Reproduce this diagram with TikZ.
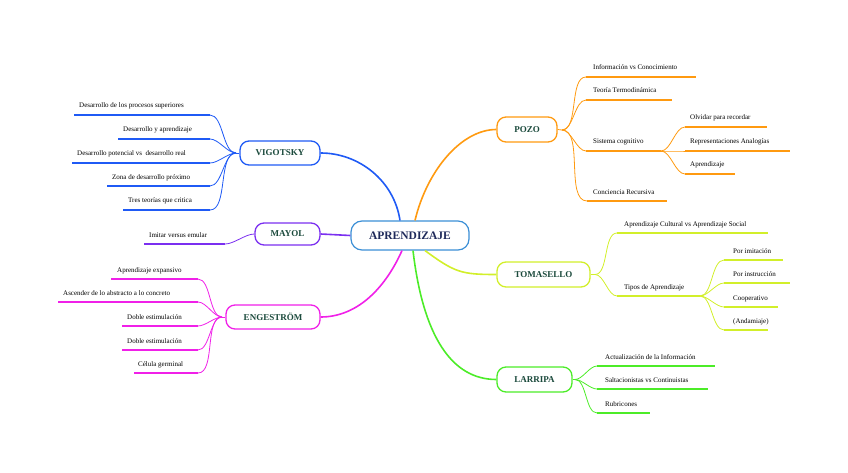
\documentclass[tikz,border=0pt]{standalone}
\usepackage{fontspec}
\setmainfont{Liberation Serif}
\usetikzlibrary{calc}
\definecolor{cblue}{HTML}{1F5AF5}
\definecolor{cpurple}{HTML}{7B2FF0}
\definecolor{cmag}{HTML}{F020E8}
\definecolor{corange}{HTML}{FF9A10}
\definecolor{cyel}{HTML}{D2EF2A}
\definecolor{cgreen}{HTML}{4CEC28}
\definecolor{ccenter}{HTML}{3B8FD6}
\definecolor{tgreen}{HTML}{1B4A3C}
\definecolor{tnavy}{HTML}{1F2A5A}
\tikzset{
  mainbox/.style={draw, rounded corners=9pt, line width=1.3pt, fill=white, inner sep=0pt,
    font=\bfseries\fontsize{9}{10}\selectfont, text=tgreen},
  centerbox/.style={draw=ccenter, rounded corners=11pt, line width=1.2pt, fill=white, inner sep=0pt,
    font=\bfseries\fontsize{11.5}{13}\selectfont, text=tnavy, minimum width=118pt, minimum height=29pt},
  lbl/.style={font=\fontsize{7}{8}\selectfont, inner sep=0pt, text=black},
  uline/.style={line width=1.5pt},
  thinc/.style={line width=0.8pt, looseness=0.75},
  mainc/.style={line width=1.6pt}
}
\newcommand{\kidline}[7]{%
  \coordinate (#1a) at (#2,#4); \coordinate (#1b) at (#3,#4);
  \draw[uline,#5] (#1a) -- (#1b);
  \node[lbl,anchor=base west] (#1) at ($(#1a)+(#7,-7)$) {#6};}
\begin{document}
\begin{tikzpicture}[x=1pt,y=-1pt]
\useasboundingbox (0,0) rectangle (848,473);
% main nodes
\node[centerbox] (ap) at (410,235.5) {APRENDIZAJE};
\node[mainbox, draw=cblue, minimum width=80pt, minimum height=24pt] (vig) at (280,153) {VIGOTSKY};
\node[mainbox, draw=cpurple, minimum width=65pt, minimum height=22pt] (may) at (287.5,234) {MAYOL};
\node[mainbox, draw=cmag, minimum width=94pt, minimum height=24pt] (eng) at (273,317) {ENGESTRÖM};
\node[mainbox, draw=corange, minimum width=60pt, minimum height=25pt] (pozo) at (527,129.5) {POZO};
\node[mainbox, draw=cyel, minimum width=93pt, minimum height=25pt] (tom) at (543.5,274.5) {TOMASELLO};
\node[mainbox, draw=cgreen, minimum width=75pt, minimum height=25pt] (lar) at (534.5,379.5) {LARRIPA};
% main connectors
\draw[mainc,cblue] (vig.east) .. controls +(38,0) and +(-6,-40) .. ([xshift=-10pt]ap.north);
\draw[mainc,corange] ([xshift=5pt]ap.north) .. controls +(12,-50) and +(-35,0) .. (pozo.west);
\draw[mainc,cpurple] (ap.west) -- (may.east);
\draw[mainc,cmag] ([xshift=-8pt]ap.south) .. controls +(-18,40) and +(35,0) .. (eng.east);
\draw[mainc,cgreen] ([xshift=3pt]ap.south) .. controls +(10,85) and +(-45,0) .. (lar.west);
\draw[mainc,cyel] ([xshift=15pt]ap.south) .. controls +(30,22) and +(-35,0) .. (tom.west);
% VIGOTSKY children
\kidline{va}{74}{210}{115}{cblue}{Desarrollo de los procesos superiores}{5}
\kidline{vb}{118}{210}{139}{cblue}{Desarrollo y aprendizaje}{5}
\kidline{vc}{72}{210}{163}{cblue}{Desarrollo potencial vs\ \ desarrollo real}{5}
\kidline{vd}{107}{210}{186}{cblue}{Zona de desarrollo próximo}{5}
\kidline{ve}{123}{210}{210}{cblue}{Tres teorías que critica}{5}
\coordinate (vigj) at (236,153);
\draw[thinc,cblue] (vig.west) -- (vigj);
\foreach \k in {va,vb,vc,vd,ve}{\draw[thinc,cblue] (vigj) to[out=180,in=0] (\k b);}
% MAYOL child
\kidline{ma}{144}{225}{244}{cpurple}{Imitar versus emular}{5}
\draw[thinc,cpurple] (may.west) to[out=180,in=0] (mab);
% ENGESTROM children
\kidline{ea}{111}{198}{279}{cmag}{Aprendizaje expansivo}{6}
\kidline{eb}{58}{198}{302}{cmag}{Ascender de lo abstracto a lo concreto}{5}
\kidline{ec}{122}{198}{326}{cmag}{Doble estimulación}{5}
\kidline{ed}{122}{198}{350}{cmag}{Doble estimulación}{5}
\kidline{ee}{134}{198}{373}{cmag}{Célula germinal}{4}
\coordinate (engj) at (222,317);
\draw[thinc,cmag] (eng.west) -- (engj);
\foreach \k in {ea,eb,ec,ed,ee}{\draw[thinc,cmag] (engj) to[out=180,in=0] (\k b);}
% POZO children
\kidline{pa}{586}{696}{77}{corange}{Información vs Conocimiento}{7}
\kidline{pb}{586}{672}{100}{corange}{Teoría Termodinámica}{7}
\kidline{pc}{586}{661}{151}{corange}{Sistema cognitivo}{7}
\kidline{pd}{587}{667}{201}{corange}{Conciencia Recursiva}{6}
\coordinate (pozoj) at (562,130);
\draw[thinc,corange] (pozo.east) -- (pozoj);
\foreach \k in {pa,pb,pc,pd}{\draw[thinc,corange] (pozoj) to[out=0,in=180] (\k a);}
\kidline{psa}{685}{767}{127}{corange}{Olvidar para recordar}{5}
\kidline{psb}{685}{790}{151}{corange}{Representaciones Analogías}{5}
\kidline{psc}{685}{735}{174}{corange}{Aprendizaje}{5}
\foreach \k in {psa,psb,psc}{\draw[thinc,corange] (pcb) to[out=0,in=180] (\k a);}
% TOMASELLO children
\kidline{ta}{617}{768}{233}{cyel}{Aprendizaje Cultural vs Aprendizaje Social}{7}
\kidline{tb}{617}{700}{296}{cyel}{Tipos de Aprendizaje}{7}
\coordinate (tomj) at (595,274.5);
\draw[thinc,cyel] (tom.east) -- (tomj);
\foreach \k in {ta,tb}{\draw[thinc,cyel] (tomj) to[out=0,in=180] (\k a);}
\kidline{tsa}{724}{783}{260}{cyel}{Por imitación}{9}
\kidline{tsb}{724}{790}{283}{cyel}{Por instrucción}{9}
\kidline{tsc}{724}{778}{307}{cyel}{Cooperativo}{9}
\kidline{tsd}{724}{768}{330}{cyel}{(Andamiaje)}{9}
\foreach \k in {tsa,tsb,tsc,tsd}{\draw[thinc,cyel] (tbb) to[out=0,in=180] (\k a);}
% LARRIPA children
\kidline{la}{597}{715}{366}{cgreen}{Actualización de la Información}{8}
\kidline{lb}{597}{708}{389}{cgreen}{Saltacionistas vs Continuistas}{8}
\kidline{lc}{597}{650}{413}{cgreen}{Rubricones}{8}
\coordinate (larj) at (575,379.5);
\draw[thinc,cgreen] (lar.east) -- (larj);
\foreach \k in {la,lb,lc}{\draw[thinc,cgreen] (larj) to[out=0,in=180] (\k a);}
\end{tikzpicture}
\end{document}
